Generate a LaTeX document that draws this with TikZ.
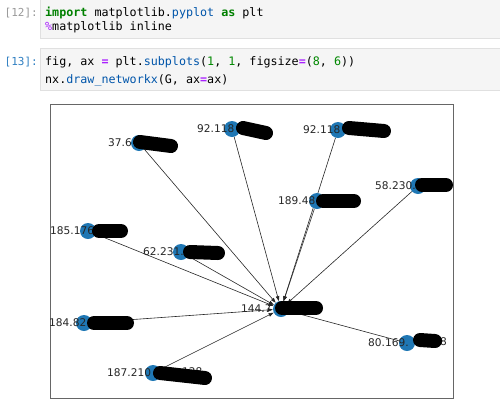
\documentclass[tikz,border=0pt]{standalone}
\usepackage{fontspec}
\setmainfont{DejaVu Sans}
\setmonofont{DejaVu Sans Mono}
\usetikzlibrary{arrows.meta,backgrounds}
\definecolor{nxblue}{RGB}{31,119,180}
\definecolor{cellbg}{RGB}{245,245,245}
\definecolor{cellline}{RGB}{224,224,224}
\definecolor{kwgreen}{RGB}{0,128,0}
\definecolor{numgreen}{RGB}{0,136,0}
\definecolor{propblue}{RGB}{0,85,170}
\definecolor{opviolet}{RGB}{170,34,255}
\definecolor{promptgray}{RGB}{153,153,153}
\definecolor{promptblue}{RGB}{48,127,193}
\newcommand{\pykw}[1]{{\color{kwgreen}\bfseries #1}}
\newcommand{\pyprop}[1]{{\color{propblue}#1}}
\newcommand{\pynum}[1]{{\color{numgreen}#1}}
\newcommand{\pyop}[1]{{\color{opviolet}\bfseries #1}}
\tikzset{
  cell/.style={fill=cellbg, draw=cellline, line width=0.8pt},
  codeline/.style={anchor=base west, inner sep=0pt, font=\fontsize{11.7}{14}\ttfamily},
  prompt/.style={anchor=base east, inner sep=0pt, font=\fontsize{11}{13}\ttfamily},
  nxnode/.style={circle, fill=nxblue, minimum size=16pt, inner sep=0pt},
  nxlabel/.style={anchor=west, inner sep=0pt, font=\fontsize{10.6}{12}\selectfont, text=black!85},
  nxedge/.style={-{Triangle[length=5pt,width=3.5pt]}, line width=0.6pt, black!85},
  blackout/.style={line width=14pt, line cap=round, black},
}
\begin{document}
\begin{tikzpicture}[x=1pt,y=-1pt]
  \useasboundingbox (0,0) rectangle (500,410);
  % notebook cells
  \draw[cell] (40,-2) rectangle (502,38);
  \draw[cell] (40,48) rectangle (502,90);
  \node[prompt, text=promptgray] (p12) at (38,16) {[12]:};
  \node[codeline] (c1) at (45,16) {\pykw{import} matplotlib.\pyprop{pyplot} \pykw{as} plt};
  \node[codeline] (c2) at (45,30) {{\color{opviolet}\%}matplotlib inline};
  \node[prompt, text=promptblue] (p13) at (38,65) {[13]:};
  \node[codeline] (c3) at (45,65) {fig, ax \pyop{=} plt.\pyprop{subplots}(\pynum{1}, \pynum{1}, figsize\pyop{=}(\pynum{8}, \pynum{6}))};
  \node[codeline] (c4) at (45,83) {nx.\pyprop{draw\_networkx}(G, ax\pyop{=}ax)};
  % axes frame
  \draw[black!60, line width=0.9pt] (50,104) rectangle (453,398);
  % graph nodes
  \node[nxnode] (hub) at (281,309) {};
  \node[nxnode] (n37) at (139,143) {};
  \node[nxnode] (n92a) at (232,129) {};
  \node[nxnode] (n92b) at (338,130) {};
  \node[nxnode] (n189) at (317,201) {};
  \node[nxnode] (n58) at (418,186) {};
  \node[nxnode] (n185) at (88,231) {};
  \node[nxnode] (n62) at (181,252) {};
  \node[nxnode] (n184) at (84,323) {};
  \node[nxnode] (n187) at (153,373) {};
  \node[nxnode] (n80) at (407,343) {};
  % edges, all into the hub
  \begin{scope}[on background layer]
    \foreach \n in {n37,n92a,n92b,n189,n58,n185,n62,n184,n187,n80}
      \draw[nxedge] (\n) -- (hub);
  \end{scope}
  % labels
  \node[nxlabel] (l37) at (108,143) {37.6};
  \node[nxlabel] (l92a) at (197,129) {92.118};
  \node[nxlabel] (l92b) at (303,130) {92.118};
  \node[nxlabel] (l189) at (278,201) {189.48};
  \node[nxlabel] (l58) at (375,186) {58.230.};
  \node[nxlabel] (l185) at (50,231) {185.176};
  \node[nxlabel] (l62) at (143,252) {62.231.1};
  \node[nxlabel] (lhub) at (241,309) {144.7};
  \node[nxlabel] (l184) at (49,323) {184.82};
  \node[nxlabel] (l187) at (107,373) {187.210};
  \node[nxlabel, anchor=base west] (l187b) at (182,375) {128};
  \node[nxlabel] (l80) at (368,343) {80.169.};
  \node[nxlabel] (l80b) at (440,342) {8};
  % redaction strokes
  \draw[blackout] (140,142) -- (171,146);
  \draw[blackout] (243,128) -- (266,133);
  \draw[blackout] (349,128) -- (384,131);
  \draw[blackout] (323,201) -- (354,201);
  \draw[blackout] (422,185) -- (446,185);
  \draw[blackout] (99,231) -- (121,231);
  \draw[blackout] (190,252) -- (218,253);
  \draw[blackout] (282,308) -- (316,308);
  \draw[blackout] (94,323) -- (127,323);
  \draw[blackout] (160,373) -- (205,378);
  \draw[blackout] (420,340) -- (435,341);
\end{tikzpicture}
\end{document}
